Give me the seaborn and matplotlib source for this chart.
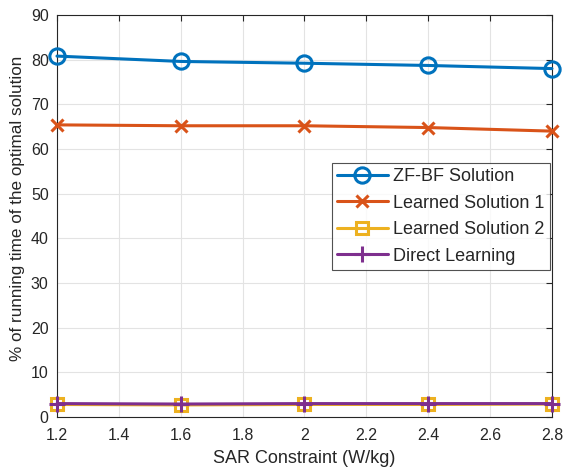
import matplotlib
matplotlib.use("Agg")
import matplotlib.pyplot as plt
import seaborn as sns
import pandas as pd

sar = [1.2, 1.6, 2.0, 2.4, 2.8]
zf_bf = [80.8, 79.6, 79.2, 78.7, 78.0]
learned1 = [65.4, 65.2, 65.2, 64.8, 64.0]
learned2 = [2.8, 2.7, 2.8, 2.8, 2.9]
direct = [3.0, 2.9, 3.0, 3.0, 3.0]

names = ["ZF-BF Solution", "Learned Solution 1", "Learned Solution 2", "Direct Learning"]
colors = ["#0072BD", "#D95319", "#EDB120", "#7E2F8E"]
markers = ["o", "x", "s", "+"]
msizes = [11, 9, 9, 12]

sns.set_style("white")
plt.rcParams["font.family"] = ["Liberation Sans", "DejaVu Sans"]

fig = plt.figure(figsize=(5.79, 4.70), dpi=100)
ax = fig.add_axes([0.0984, 0.1128, 0.8549, 0.8553])

for name, vals, c, m, ms in zip(names, [zf_bf, learned1, learned2, direct], colors, markers, msizes):
    df = pd.DataFrame({"SAR": sar, "val": vals})
    sns.lineplot(data=df, x="SAR", y="val", ax=ax, color=c, marker=m, markersize=ms,
                 markerfacecolor="none", markeredgecolor=c, markeredgewidth=2.2,
                 linewidth=2.2, label=name, clip_on=False, zorder=3)

ax.set_xlim(1.2, 2.8)
ax.set_ylim(0, 90)
xt = [1.2, 1.4, 1.6, 1.8, 2.0, 2.2, 2.4, 2.6, 2.8]
ax.set_xticks(xt)
ax.set_xticklabels(["1.2", "1.4", "1.6", "1.8", "2", "2.2", "2.4", "2.6", "2.8"])
ax.set_yticks(range(0, 91, 10))
ax.grid(True, color="#e3e3e3", linewidth=0.8)
ax.set_axisbelow(True)
for s in ax.spines.values():
    s.set_color("#262626")
    s.set_linewidth(0.8)
ax.tick_params(direction="in", top=True, right=True, labelsize=11.5, colors="#262626",
               length=4, width=0.8)
ax.tick_params(axis="x", pad=8)
ax.tick_params(axis="y", pad=6)
ax.set_xlabel("SAR Constraint (W/kg)", fontsize=13, color="#262626", labelpad=5)
ax.set_ylabel("% of running time of the optimal solution", fontsize=12.3, color="#262626")
ax.yaxis.set_label_coords(-0.064, 0.52)

leg = ax.legend(loc="upper right", bbox_to_anchor=(0.996, 0.632), fontsize=13,
                frameon=True, fancybox=False, borderpad=0.3, labelspacing=0.52,
                handlelength=2.8, handletextpad=0.3, borderaxespad=0)
leg.get_frame().set_edgecolor("#262626")
leg.get_frame().set_linewidth(0.8)

fig.savefig("out.png", dpi=100)
